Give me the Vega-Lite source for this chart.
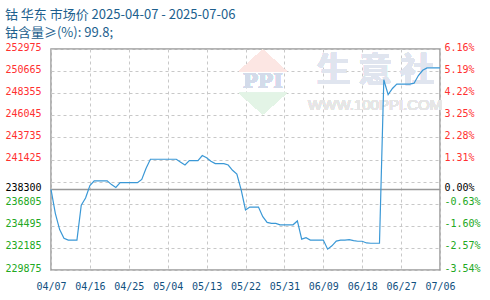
{
  "$schema": "https://vega.github.io/schema/vega-lite/v6.json",
  "width": 389,
  "height": 221,
  "autosize": {"type": "none"},
  "padding": {"left": 51, "top": 49, "right": 50, "bottom": 30},
  "background": "white",
  "title": {
    "text": ["钴 华东 市场价 2025-04-07 - 2025-07-06", "钴含量≥(%): 99.8;"],
    "anchor": "start",
    "font": "Noto Sans CJK SC",
    "fontSize": 13,
    "fontWeight": "normal",
    "color": "#1d5f8e",
    "lineHeight": 18,
    "offset": 12,
    "dy": 10
  },
  "config": {
    "view": {"stroke": "#9a9a9a", "strokeWidth": 1.5},
    "axis": {
      "labelFont": "DejaVu Sans Mono",
      "labelFontSize": 10,
      "ticks": false,
      "domain": false,
      "title": null,
      "labelFlush": false,
      "labelOverlap": false,
      "labelBound": false
    }
  },
  "datasets": {
    "price": [
      {"date": "2025-04-07", "price": 238300},
      {"date": "2025-04-08", "price": 235800},
      {"date": "2025-04-09", "price": 234100},
      {"date": "2025-04-10", "price": 233200},
      {"date": "2025-04-11", "price": 233000},
      {"date": "2025-04-12", "price": 233000},
      {"date": "2025-04-13", "price": 233000},
      {"date": "2025-04-14", "price": 236650},
      {"date": "2025-04-15", "price": 237400},
      {"date": "2025-04-16", "price": 238700},
      {"date": "2025-04-17", "price": 239200},
      {"date": "2025-04-18", "price": 239200},
      {"date": "2025-04-19", "price": 239200},
      {"date": "2025-04-20", "price": 239200},
      {"date": "2025-04-21", "price": 238800},
      {"date": "2025-04-22", "price": 238500},
      {"date": "2025-04-23", "price": 239000},
      {"date": "2025-04-24", "price": 239000},
      {"date": "2025-04-25", "price": 239000},
      {"date": "2025-04-26", "price": 239000},
      {"date": "2025-04-27", "price": 239000},
      {"date": "2025-04-28", "price": 239350},
      {"date": "2025-04-29", "price": 240500},
      {"date": "2025-04-30", "price": 241450},
      {"date": "2025-05-01", "price": 241450},
      {"date": "2025-05-02", "price": 241450},
      {"date": "2025-05-03", "price": 241450},
      {"date": "2025-05-04", "price": 241450},
      {"date": "2025-05-05", "price": 241450},
      {"date": "2025-05-06", "price": 241450},
      {"date": "2025-05-07", "price": 241150},
      {"date": "2025-05-08", "price": 240850},
      {"date": "2025-05-09", "price": 241300},
      {"date": "2025-05-10", "price": 241300},
      {"date": "2025-05-11", "price": 241300},
      {"date": "2025-05-12", "price": 241840},
      {"date": "2025-05-13", "price": 241600},
      {"date": "2025-05-14", "price": 241250},
      {"date": "2025-05-15", "price": 241000},
      {"date": "2025-05-16", "price": 241000},
      {"date": "2025-05-17", "price": 241000},
      {"date": "2025-05-18", "price": 240850},
      {"date": "2025-05-19", "price": 240300},
      {"date": "2025-05-20", "price": 239900},
      {"date": "2025-05-21", "price": 238250},
      {"date": "2025-05-22", "price": 236150},
      {"date": "2025-05-23", "price": 236450},
      {"date": "2025-05-24", "price": 236450},
      {"date": "2025-05-25", "price": 236450},
      {"date": "2025-05-26", "price": 235450},
      {"date": "2025-05-27", "price": 234850},
      {"date": "2025-05-28", "price": 234750},
      {"date": "2025-05-29", "price": 234750},
      {"date": "2025-05-30", "price": 234600},
      {"date": "2025-05-31", "price": 234600},
      {"date": "2025-06-01", "price": 234600},
      {"date": "2025-06-02", "price": 234600},
      {"date": "2025-06-03", "price": 235000},
      {"date": "2025-06-04", "price": 233100},
      {"date": "2025-06-05", "price": 233250},
      {"date": "2025-06-06", "price": 233000},
      {"date": "2025-06-07", "price": 233000},
      {"date": "2025-06-08", "price": 233000},
      {"date": "2025-06-09", "price": 233000},
      {"date": "2025-06-10", "price": 232050},
      {"date": "2025-06-11", "price": 232400},
      {"date": "2025-06-12", "price": 232900},
      {"date": "2025-06-13", "price": 233000},
      {"date": "2025-06-14", "price": 233000},
      {"date": "2025-06-15", "price": 233050},
      {"date": "2025-06-16", "price": 232950},
      {"date": "2025-06-17", "price": 232880},
      {"date": "2025-06-18", "price": 232880},
      {"date": "2025-06-19", "price": 232700},
      {"date": "2025-06-20", "price": 232670},
      {"date": "2025-06-21", "price": 232670},
      {"date": "2025-06-22", "price": 232670},
      {"date": "2025-06-23", "price": 249760},
      {"date": "2025-06-24", "price": 248200},
      {"date": "2025-06-25", "price": 248850},
      {"date": "2025-06-26", "price": 249300},
      {"date": "2025-06-27", "price": 249300},
      {"date": "2025-06-28", "price": 249300},
      {"date": "2025-06-29", "price": 249300},
      {"date": "2025-06-30", "price": 249400},
      {"date": "2025-07-01", "price": 250200},
      {"date": "2025-07-02", "price": 250750},
      {"date": "2025-07-03", "price": 251000},
      {"date": "2025-07-04", "price": 251000},
      {"date": "2025-07-05", "price": 251000},
      {"date": "2025-07-06", "price": 251000}
    ]
  },
  "data": {"name": "price"},
  "layer": [
    {
      "encoding": {
        "x": {
          "field": "date",
          "type": "temporal",
          "scale": {
            "type": "utc",
            "nice": false,
            "domain": [
              {"year": 2025, "month": 4, "date": 7, "utc": true},
              {"year": 2025, "month": 7, "date": 6, "utc": true}
            ]
          },
          "axis": {
            "values": [
              {"year": 2025, "month": 4, "date": 7, "utc": true},
              {"year": 2025, "month": 4, "date": 16, "utc": true},
              {"year": 2025, "month": 4, "date": 25, "utc": true},
              {"year": 2025, "month": 5, "date": 4, "utc": true},
              {"year": 2025, "month": 5, "date": 13, "utc": true},
              {"year": 2025, "month": 5, "date": 22, "utc": true},
              {"year": 2025, "month": 5, "date": 31, "utc": true},
              {"year": 2025, "month": 6, "date": 9, "utc": true},
              {"year": 2025, "month": 6, "date": 18, "utc": true},
              {"year": 2025, "month": 6, "date": 27, "utc": true},
              {"year": 2025, "month": 7, "date": 6, "utc": true}
            ],
            "tickCount": 30,
            "format": "%m/%d",
            "labelOverlap": false,
            "labelColor": "#11507f",
            "labelPadding": 11,
            "gridColor": "#c8c8c8",
            "gridDash": [3, 3]
          }
        },
        "y": {
          "field": "price",
          "type": "quantitative",
          "scale": {"domain": [229875, 252975], "nice": false, "zero": false},
          "axis": {
            "orient": "left",
            "values": [229875, 232185, 234495, 236805, 238300, 239115, 241425, 243735, 246045, 248355, 250665, 252975],
            "tickCount": 30,
            "format": "d",
            "labelOverlap": false,
            "labelExpr": "datum.value == 239115 ? '' : datum.label",
            "labelPadding": 10,
            "labelOffset": -2,
            "labelColor": {
              "condition": [
                {"test": "datum.value > 238300", "value": "#ff3030"},
                {"test": "datum.value < 238300", "value": "#22a822"}
              ],
              "value": "#000000"
            },
            "gridColor": {"condition": {"test": "datum.value == 238300", "value": "#999999"}, "value": "#c8c8c8"},
            "gridDash": {"condition": {"test": "datum.value == 238300", "value": []}, "value": [3, 3]},
            "gridWidth": {"condition": {"test": "datum.value == 238300", "value": 1.5}, "value": 1}
          }
        }
      },
      "layer": [
        {
          "mark": {"type": "point", "shape": "M-1,0L0,-0.9L1,0Z", "filled": true, "color": "#fce6e3", "opacity": 1},
          "encoding": {
            "x": {"datum": {"year": 2025, "month": 5, "date": 26, "utc": true}, "type": "temporal"},
            "y": {"datum": 250630, "type": "quantitative"},
            "size": {"value": 2304}
          }
        },
        {
          "mark": {"type": "point", "shape": "M-1,0L0,0.9L1,0Z", "filled": true, "color": "#e3f4e6", "opacity": 1},
          "encoding": {
            "x": {"datum": {"year": 2025, "month": 5, "date": 26, "utc": true}, "type": "temporal"},
            "y": {"datum": 248401, "type": "quantitative"},
            "size": {"value": 2304}
          }
        },
        {
          "mark": {"type": "text", "text": "PPI", "font": "DejaVu Serif", "fontWeight": "bold", "fontSize": 20, "color": "#d3dbea", "align": "center", "baseline": "middle"},
          "encoding": {
            "x": {"datum": {"year": 2025, "month": 5, "date": 26, "utc": true}, "type": "temporal"},
            "y": {"datum": 249500, "type": "quantitative"}
          }
        },
        {
          "mark": {"type": "text", "text": "生 意 社", "font": "Noto Sans CJK SC", "fontWeight": "bold", "fontSize": 34, "color": "#e0e5ef", "align": "center", "baseline": "middle"},
          "encoding": {
            "x": {"datum": {"year": 2025, "month": 6, "date": 21, "utc": true}, "type": "temporal"},
            "y": {"datum": 250547, "type": "quantitative"}
          }
        },
        {
          "mark": {"type": "text", "text": "WWW.100PPI.COM", "font": "Liberation Sans", "fontSize": 15, "color": "#e6e6e6", "align": "center", "baseline": "middle"},
          "encoding": {
            "x": {"datum": {"year": 2025, "month": 6, "date": 21, "utc": true}, "type": "temporal"},
            "y": {"datum": 247093, "type": "quantitative"}
          }
        },
        {
          "mark": {"type": "line", "color": "#3a98d6", "strokeWidth": 1.2}
        }
      ]
    },
    {
      "mark": {"type": "line", "opacity": 0},
      "encoding": {
        "x": {"field": "date", "type": "temporal"},
        "y": {
          "field": "price",
          "type": "quantitative",
          "scale": {"domain": [229875, 252975], "nice": false, "zero": false},
          "axis": {
            "orient": "right",
            "grid": false,
            "labelOverlap": false,
            "tickCount": 30,
            "values": [229875, 232185, 234495, 236805, 238300, 241425, 243735, 246045, 248355, 250665, 252975],
            "labelExpr": "replace(format((datum.value / 238300 - 1) * 100, '.2f'), '\u2212', '-') + '%'",
            "labelPadding": 4,
            "labelOffset": -2,
            "labelColor": {
              "condition": [
                {"test": "datum.value > 238300", "value": "#ff3030"},
                {"test": "datum.value < 238300", "value": "#22a822"}
              ],
              "value": "#000000"
            }
          }
        }
      }
    }
  ],
  "resolve": {"scale": {"y": "independent"}}
}
